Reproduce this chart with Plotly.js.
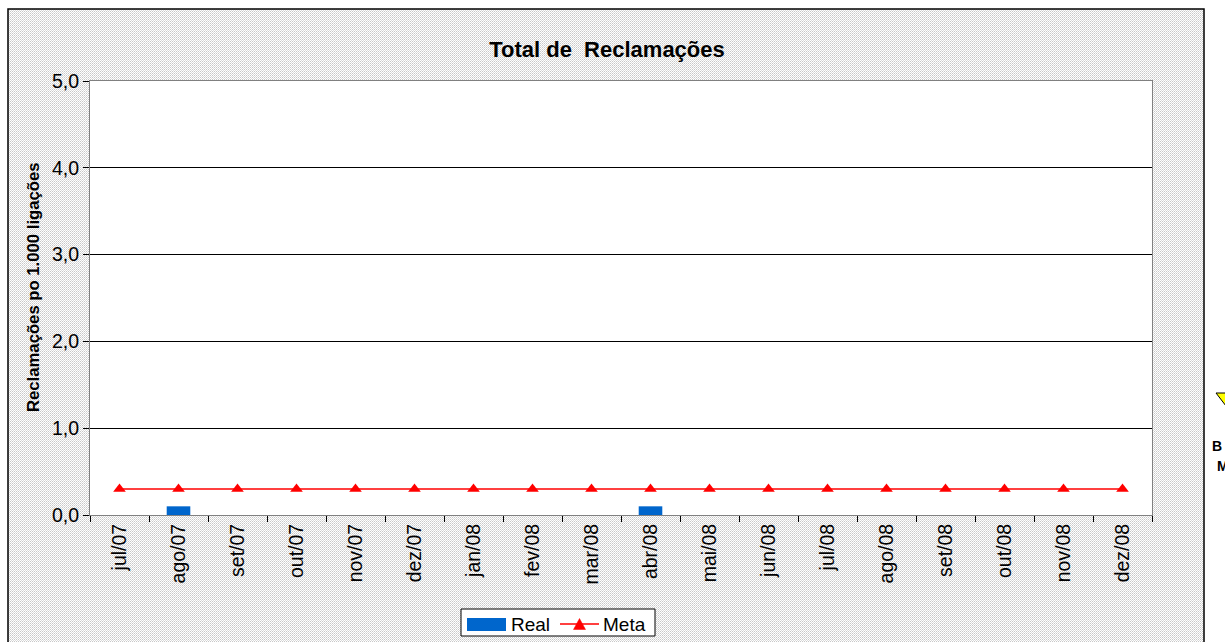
<!DOCTYPE html>
<html>
<head>
<meta charset="utf-8">
<script src="https://cdn.plot.ly/plotly-3.0.1.min.js"></script>
<style>html,body{margin:0;padding:0;background:#fff;}#chart{width:1225px;height:642px;}</style>
</head>
<body>
<div id="chart"></div>
<script>
const categories = ['jul/07','ago/07','set/07','out/07','nov/07','dez/07','jan/08','fev/08','mar/08','abr/08','mai/08','jun/08','jul/08','ago/08','set/08','out/08','nov/08','dez/08'];
const realValues = [0, 0.1, 0, 0, 0, 0, 0, 0, 0, 0.1, 0, 0, 0, 0, 0, 0, 0, 0];
const metaValues = [0.3, 0.3, 0.3, 0.3, 0.3, 0.3, 0.3, 0.3, 0.3, 0.3, 0.3, 0.3, 0.3, 0.3, 0.3, 0.3, 0.3, 0.3];
const yTicks = [0, 1, 2, 3, 4, 5];
const seriesNames = ['Real', 'Meta'];
const yTitle = 'Reclamações po 1.000 ligações';
const chartTitle = 'Total de  Reclamações';

const W = 1225, H = 642;
const L = 90, R = 73, T = 81, B = 127;
const PW = W - L - R, PH = H - T - B;
const px = v => (v - L) / PW;           // pixel x -> paper
const py = v => 1 - (v - T) / PH;       // pixel y -> paper
const font = '"Liberation Sans", Arial, sans-serif';

const pattern = "<svg xmlns='http://www.w3.org/2000/svg' width='1196' height='640'><defs><pattern id='p' width='2' height='2' patternUnits='userSpaceOnUse'><rect width='2' height='2' fill='#ffffff'/><rect width='1' height='1' fill='#c8c8c8'/><rect x='1' y='1' width='1' height='1' fill='#dcdcdc'/></pattern></defs><rect width='1196' height='640' fill='url(#p)'/></svg>";
const patternURI = 'data:image/svg+xml;charset=utf-8,' + encodeURIComponent(pattern);

const traces = [
  {
    type: 'bar', name: seriesNames[0], x: categories, y: realValues,
    marker: {color: '#0066CC'}, width: 0.4, showlegend: false
  },
  {
    type: 'scatter', mode: 'lines+markers', name: seriesNames[1], x: categories, y: metaValues,
    line: {color: '#FF0000', width: 1.5},
    marker: {symbol: 'triangle-up', size: 11, color: '#FF0000'}, showlegend: false
  }
];

// manual legend (box with wide bar swatch like the original)
const lgShapes = [
  {type: 'rect', xref: 'paper', yref: 'paper', x0: px(461), x1: px(655), y0: py(636), y1: py(609), fillcolor: '#ffffff', line: {color: '#000', width: 1}, layer: 'above'},
  {type: 'rect', xref: 'paper', yref: 'paper', x0: px(467), x1: px(506), y0: py(631), y1: py(618), fillcolor: '#0066CC', line: {width: 0}, layer: 'above'},
  {type: 'line', xref: 'paper', yref: 'paper', x0: px(560), x1: px(599), y0: py(624), y1: py(624), line: {color: '#FF0000', width: 1.5}, layer: 'above'},
  {type: 'path', xref: 'paper', yref: 'paper',
   path: 'M ' + px(573.5) + ' ' + py(629.5) + ' L ' + px(585.5) + ' ' + py(629.5) + ' L ' + px(579.5) + ' ' + py(618.5) + ' Z',
   fillcolor: '#FF0000', line: {color: '#FF0000', width: 0.5}, layer: 'above'}
];

const layout = {
  width: W, height: H,
  margin: {l: L, r: R, t: T, b: B},
  paper_bgcolor: '#ffffff',
  plot_bgcolor: '#ffffff',
  separators: ',.',
  font: {family: font, size: 19, color: '#000'},
  showlegend: false,
  title: {text: '<b>' + chartTitle + '</b>', font: {family: font, size: 22, color: '#000'}, x: 0.4955, xanchor: 'center', y: 1 - 49/H, yanchor: 'middle'},
  xaxis: {
    type: 'category', range: [-0.5, categories.length - 0.5], tickangle: -90, ticks: 'outside', ticklen: 6, tickcolor: '#000',
    tickson: 'boundaries', showline: true, linecolor: '#808080', linewidth: 1, mirror: true,
    tickfont: {family: font, size: 19.5, color: '#000'}, showgrid: false, fixedrange: true, automargin: false
  },
  yaxis: {
    range: [0, 5], tickvals: yTicks, tickformat: '.1f', ticks: 'outside', ticklen: 6, tickcolor: '#000',
    showline: true, linecolor: '#808080', linewidth: 1, mirror: true,
    showgrid: true, gridcolor: '#000', gridwidth: 1, zeroline: false, automargin: false,
    tickfont: {family: font, size: 19.5, color: '#000'}
  },
  barmode: 'overlay',
  images: [{
    source: patternURI, xref: 'paper', yref: 'paper',
    x: px(8), y: py(9), sizex: 1196 / PW, sizey: 640 / PH,
    xanchor: 'left', yanchor: 'top', sizing: 'stretch', layer: 'below'
  }],
  shapes: [
    {type: 'rect', xref: 'x domain', yref: 'y domain', x0: 0, x1: 1, y0: 0, y1: 1, fillcolor: '#ffffff', line: {width: 0}, layer: 'below'},
    {type: 'rect', xref: 'paper', yref: 'paper', x0: px(8), x1: px(1204), y0: py(H + 20), y1: py(9),
     line: {color: '#000', width: 1.5}, fillcolor: 'rgba(0,0,0,0)', layer: 'above'},
    {type: 'path', xref: 'paper', yref: 'paper',
     path: 'M ' + px(1216) + ' ' + py(393) + ' L ' + px(1236) + ' ' + py(393) + ' L ' + px(1226) + ' ' + py(406) + ' Z',
     fillcolor: '#FFFF00', line: {color: '#000', width: 1}, layer: 'above'}
  ].concat(lgShapes),
  annotations: [
    {text: '<b>' + yTitle + '</b>', textangle: -90, xref: 'paper', yref: 'paper', x: px(33), y: py(287), xanchor: 'center', yanchor: 'middle', showarrow: false, font: {family: font, size: 16.7, color: '#000'}},
    {text: seriesNames[0], xref: 'paper', yref: 'paper', x: px(509), y: py(624), xanchor: 'left', yanchor: 'middle', showarrow: false, font: {family: font, size: 19, color: '#000'}},
    {text: seriesNames[1], xref: 'paper', yref: 'paper', x: px(601), y: py(624), xanchor: 'left', yanchor: 'middle', showarrow: false, font: {family: font, size: 19, color: '#000'}},
    {text: '<b>B</b>', xref: 'paper', yref: 'paper', x: px(1210), y: py(446), xanchor: 'left', yanchor: 'middle', showarrow: false, font: {family: font, size: 14, color: '#000'}},
    {text: '<b>M</b>', xref: 'paper', yref: 'paper', x: px(1215), y: py(466), xanchor: 'left', yanchor: 'middle', showarrow: false, font: {family: font, size: 14, color: '#000'}}
  ]
};

Plotly.newPlot('chart', traces, layout, {displayModeBar: false, staticPlot: true});
</script>
</body>
</html>
